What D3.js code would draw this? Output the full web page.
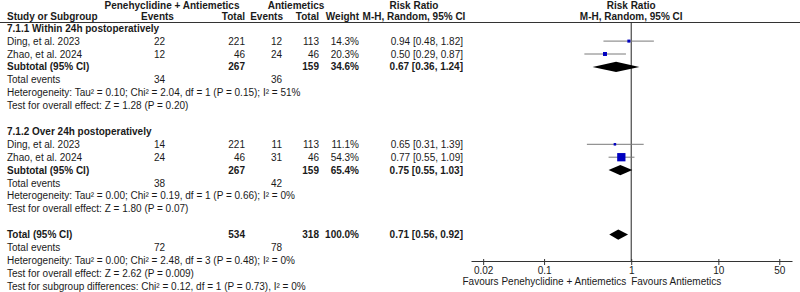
<!DOCTYPE html>
<html>
<head>
<meta charset="utf-8">
<script src="https://cdn.jsdelivr.net/npm/d3@7"></script>
<style>
  body { margin: 0; background: #fff; }
  text { font-family: "Liberation Sans", Arial, sans-serif; font-size: 10px; fill: #1a1a1a; }
  .b { font-weight: bold; }
</style>
</head>
<body>
<div id="chart"></div>
<script>
// data
var subgroups = ["7.1.1 Within 24h postoperatively", "7.1.2 Over 24h postoperatively"];
var studies = ["Ding, et al. 2023", "Zhao, et al. 2024", "Ding, et al. 2023", "Zhao, et al. 2024"];
var studyGroup = [0, 0, 1, 1];
var expEvents = [22, 12, 14, 24];
var expTotal = [221, 46, 221, 46];
var ctlEvents = [12, 24, 11, 31];
var ctlTotal = [113, 46, 113, 46];
var weights = [14.3, 20.3, 11.1, 54.3];
var rr = [0.94, 0.50, 0.65, 0.77];
var rrLo = [0.48, 0.29, 0.31, 0.55];
var rrHi = [1.82, 0.87, 1.39, 1.09];

var subExpTotal = [267, 267];
var subCtlTotal = [159, 159];
var subWeight = [34.6, 65.4];
var subRR = [0.67, 0.75];
var subLo = [0.36, 0.55];
var subHi = [1.24, 1.03];
var subExpEvents = [34, 38];
var subCtlEvents = [36, 42];
var subHet = [
  "Heterogeneity: Tau\u00b2 = 0.10; Chi\u00b2 = 2.04, df = 1 (P = 0.15); I\u00b2 = 51%",
  "Heterogeneity: Tau\u00b2 = 0.00; Chi\u00b2 = 0.19, df = 1 (P = 0.66); I\u00b2 = 0%"
];
var subTest = ["Test for overall effect: Z = 1.28 (P = 0.20)", "Test for overall effect: Z = 1.80 (P = 0.07)"];

var totExpTotal = 534, totCtlTotal = 318, totWeight = 100.0;
var totRR = 0.71, totLo = 0.56, totHi = 0.92;
var totExpEvents = 72, totCtlEvents = 78;
var totHet = "Heterogeneity: Tau\u00b2 = 0.00; Chi\u00b2 = 2.48, df = 3 (P = 0.48); I\u00b2 = 0%";
var totTest = "Test for overall effect: Z = 2.62 (P = 0.009)";
var subDiff = "Test for subgroup differences: Chi\u00b2 = 0.12, df = 1 (P = 0.73), I\u00b2 = 0%";

var axisTicks = [0.02, 0.1, 1, 10, 50];
var tickLabels = ["0.02", "0.1", "1", "10", "50"];
var favLeft = "Favours Penehyclidine + Antiemetics";
var favRight = "Favours Antiemetics";

var width = 800, height = 292;

var svg = d3.select("#chart").append("svg")
    .attr("width", width)
    .attr("height", height);

var fmt2 = d3.format(".2f");
function ciText(m, l, h) { return fmt2(m) + " [" + fmt2(l) + ", " + fmt2(h) + "]"; }

// build the rows
var rows = [];
subgroups.forEach(function (g, gi) {
    rows.push({type: "group", label: g});
    studies.forEach(function (s, i) {
        if (studyGroup[i] != gi) return;
        rows.push({type: "study", label: s, e1: expEvents[i], n1: expTotal[i], e2: ctlEvents[i], n2: ctlTotal[i],
            w: weights[i], m: rr[i], lo: rrLo[i], hi: rrHi[i]});
    });
    rows.push({type: "sub", label: "Subtotal (95% CI)", n1: subExpTotal[gi], n2: subCtlTotal[gi], w: subWeight[gi],
        m: subRR[gi], lo: subLo[gi], hi: subHi[gi]});
    rows.push({type: "events", label: "Total events", e1: subExpEvents[gi], e2: subCtlEvents[gi]});
    rows.push({type: "note", label: subHet[gi]});
    rows.push({type: "note", label: subTest[gi]});
    rows.push({type: "blank"});
});
rows.push({type: "sub", label: "Total (95% CI)", n1: totExpTotal, n2: totCtlTotal, w: totWeight, m: totRR, lo: totLo, hi: totHi});
rows.push({type: "events", label: "Total events", e1: totExpEvents, e2: totCtlEvents});
rows.push({type: "note", label: totHet});
rows.push({type: "note", label: totTest});
rows.push({type: "note", label: subDiff});

var yRow = d3.scaleLinear().domain([0, rows.length - 1]).range([28.2, 28.2 + (rows.length - 1) * 12.9]);
var xScale = d3.scaleLog().domain([0.0145, 70]).range([471, 792]);
var sizeScale = d3.scalePow().exponent(0.75).domain([0, 100]).range([0, 13.1]);

var col = {study: 7, e1: 159.5, n1: 245, e2: 282, n2: 319, w: 359, rr: 463};

// header
var head = svg.append("g").attr("class", "head");
function htext(x, y, t, anchor) {
    head.append("text").attr("class", "b").attr("x", x).attr("y", y).attr("dy", "0.35em")
        .attr("text-anchor", anchor).text(t);
}
htext(172, 5, "Penehyclidine + Antiemetics", "middle");
htext(296, 5, "Antiemetics", "middle");
htext(414, 5, "Risk Ratio", "middle");
htext(xScale(1), 5, "Risk Ratio", "middle");
htext(col.study, 16.5, "Study or Subgroup", "start");
htext(157.5, 16.5, "Events", "middle");
htext(col.n1, 16.5, "Total", "end");
htext(283, 16.5, "Events", "end");
htext(col.n2, 16.5, "Total", "end");
htext(col.w, 16.5, "Weight", "end");
htext(414, 16.5, "M-H, Random, 95% CI", "middle");
htext(xScale(1), 16.5, "M-H, Random, 95% CI", "middle");

svg.append("line")
    .attr("x1", 0).attr("x2", width)
    .attr("y1", 22.5).attr("y2", 22.5)
    .style("stroke", "#333").style("stroke-width", 1);

// table text
var body = svg.append("g");
rows.forEach(function (r, i) {
    var y = yRow(i);
    var bold = (r.type == "group" || r.type == "sub");
    function t(x, txt, anchor, b) {
        body.append("text").attr("x", x).attr("y", y).attr("dy", "0.35em")
            .attr("text-anchor", anchor).attr("class", b ? "b" : null).text(txt);
    }
    if (r.type == "blank") return;
    t(col.study, r.label, "start", bold);
    if (r.type == "study" || r.type == "events") {
        t(col.e1, r.e1, "middle", false);
        t(col.e2, r.e2, "end", false);
    }
    if (r.type == "study" || r.type == "sub") {
        t(col.n1, r.n1, "end", bold);
        t(col.n2, r.n2, "end", bold);
        t(col.w, d3.format(".1f")(r.w) + "%", "end", bold);
        t(col.rr, ciText(r.m, r.lo, r.hi), "end", bold);
    }
});

// forest plot
var axisY = 261;
var plot = svg.append("g");

plot.append("line")
    .attr("x1", xScale(1)).attr("x2", xScale(1))
    .attr("y1", 22.5).attr("y2", axisY)
    .style("stroke", "#222").style("stroke-width", 1);

rows.forEach(function (r, i) {
    var y = yRow(i);
    if (r.type == "study") {
        plot.append("line")
            .attr("x1", xScale(r.lo)).attr("x2", xScale(r.hi))
            .attr("y1", y).attr("y2", y)
            .style("stroke", "#7a7a7a").style("stroke-width", 1);
        var s = sizeScale(r.w);
        plot.append("rect")
            .attr("x", xScale(r.m) - s / 2).attr("y", y - s / 2)
            .attr("width", s).attr("height", s)
            .style("fill", "#0000c0");
    } else if (r.type == "sub") {
        var h = 5.2;
        plot.append("path")
            .attr("d", "M" + xScale(r.lo) + "," + y +
                "L" + xScale(r.m) + "," + (y - h) +
                "L" + xScale(r.hi) + "," + y +
                "L" + xScale(r.m) + "," + (y + h) + "Z")
            .style("fill", "#000");
    }
});

var xAxis = d3.axisBottom(xScale)
    .tickValues(axisTicks)
    .tickFormat(function (d, i) { return tickLabels[i]; })
    .tickSizeInner(4)
    .tickSizeOuter(0)
    .tickPadding(2);

var axisG = svg.append("g")
    .attr("transform", "translate(0," + axisY + ")")
    .call(xAxis);
axisG.select(".domain").style("stroke", "#333");
axisG.selectAll(".tick line").style("stroke", "#333").attr("y1", -2);
axisG.selectAll(".tick text")
    .style("font-family", "'Liberation Sans', Arial, sans-serif")
    .style("font-size", "10px")
    .style("fill", "#1a1a1a");

svg.append("text").attr("x", xScale(1) - 5).attr("y", 281).attr("dy", "0.35em")
    .attr("text-anchor", "end").text(favLeft);
svg.append("text").attr("x", xScale(1) + 0).attr("y", 281).attr("dy", "0.35em")
    .attr("text-anchor", "start").text(favRight);
</script>
</body>
</html>
